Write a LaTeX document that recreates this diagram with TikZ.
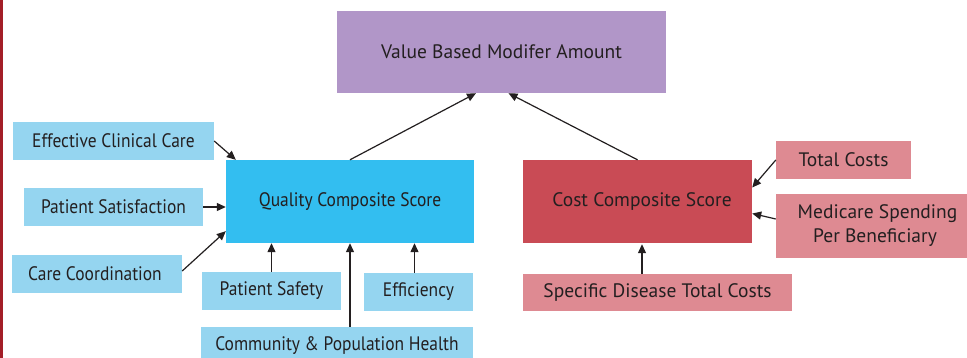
\documentclass[tikz,border=0pt]{standalone}
\usepackage{fontspec}
\usepackage{graphicx}
\setmainfont{PT Sans}
\usetikzlibrary{arrows.meta,calc}
\definecolor{valfill}{HTML}{B196C8}
\definecolor{qualfill}{HTML}{33BEF0}
\definecolor{qsub}{HTML}{95D5F0}
\definecolor{costfill}{HTML}{C94B55}
\definecolor{csub}{HTML}{DE8A92}
\definecolor{edgebar}{HTML}{A31E28}
\definecolor{ink}{HTML}{231F20}
% quality-side labels are set slightly condensed
\newcommand{\condensed}[1]{\scalebox{0.895}[1]{#1}}
\tikzset{
  box/.style={rectangle, inner sep=0pt, text=ink, font=\fontsize{19.5}{24}\selectfont, align=center},
  arr/.style={-{Triangle[length=9pt,width=8pt]}, line width=1.2pt, draw=ink},
}
\begin{document}
\begin{tikzpicture}[x=1pt,y=-1pt]
\useasboundingbox (0,0) rectangle (967,358);
\clip (0,0) rectangle (967,358);
\fill[white] (0,0) rectangle (967,358);
\fill[edgebar] (0,0) rectangle (3,358);

% top level
\node[box, fill=valfill, minimum width=329pt, minimum height=82pt] (val) at (501.5,52) {Value Based Modifer Amount};

% composite scores
\node[box, fill=qualfill, minimum width=248pt, minimum height=83pt] (qual) at (350,201.5) {\condensed{Quality Composite Score}};
\node[box, fill=costfill, minimum width=229pt, minimum height=83pt] (cost) at (637.5,201.5) {\hspace*{9pt}Cost Composite Score};

% quality measures
\node[box, fill=qsub, minimum width=201pt, minimum height=38pt] (ecc) at (113.5,141) {\condensed{Effective Clinical Care}};
\node[box, fill=qsub, minimum width=179pt, minimum height=38pt] (psat) at (113.5,207) {\condensed{Patient Satisfaction}};
\node[box, fill=qsub, minimum width=170pt, minimum height=38pt] (ccoord) at (97,274) {\hspace*{-4pt}\condensed{Care Coordination}};
\node[box, fill=qsub, minimum width=139pt, minimum height=38pt] (psafe) at (271.5,291) {\condensed{Patient Safety}};
\node[box, fill=qsub, minimum width=109pt, minimum height=38pt] (eff) at (418.5,292) {\condensed{Efficiency}};
\node[box, fill=qsub, minimum width=272pt, minimum height=38pt] (cph) at (337,346) {\condensed{Community \& Population Health}};

% cost measures
\node[box, fill=csub, minimum width=135pt, minimum height=38pt] (tcost) at (843.5,160) {Total Costs};
\node[box, fill=csub, minimum width=191pt, minimum height=64pt] (mspb) at (871.5,226) {\hspace*{12pt}Medicare Spending\\\hspace*{7pt}Per Beneficiary};
\node[box, fill=csub, minimum width=269pt, minimum height=37pt] (sdtc) at (657.5,292.5) {Specific Disease Total Costs};

% connectors
\draw[arr] (qual.north) -- ($(val.south)+(-25.5,0)$);
\draw[arr] (cost.north) -- ($(val.south)+(7,0)$);

\draw[arr] (ecc.east) -- ($(qual.north west)+(10,0)$);
\draw[arr] (psat.east) -- (psat.east -| qual.west);
\draw[arr] ($(ccoord.east)+(0,-3)$) -- ($(qual.south west)+(0,-12)$);
\draw[arr] (psafe.north) -- (psafe.north |- qual.south);
\draw[arr] (qual.south |- cph.north) -- (qual.south);
\coordinate (effsrc) at ($(eff.north)+(-4,0)$);
\draw[arr] (effsrc) -- (effsrc |- qual.south);

\draw[arr] (tcost.west) -- ($(cost.east)+(0,-14)$);
\draw[arr] ($(mspb.west)+(0,-7)$) -- ($(cost.east)+(0,12)$);
\coordinate (sdsrc) at ($(sdtc.north)+(-15.5,0)$);
\draw[arr] (sdsrc) -- ($(sdsrc |- cost.south)+(0,1)$);
\end{tikzpicture}
\end{document}
